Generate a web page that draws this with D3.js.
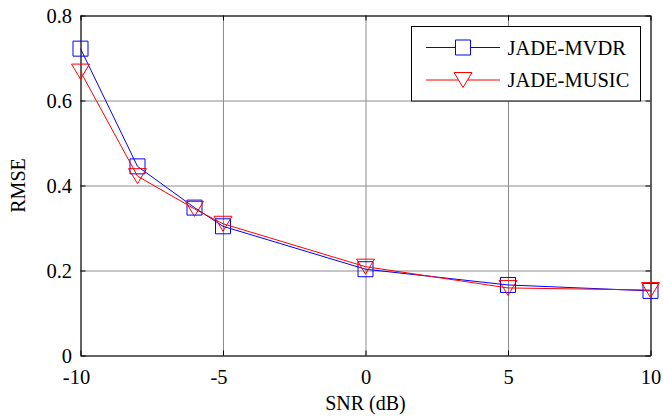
<!DOCTYPE html>
<html>
<head>
<meta charset="utf-8">
<script src="https://cdn.jsdelivr.net/npm/d3@7/dist/d3.min.js"></script>
<style>
  body { margin: 0; background: #fff; }
  text { font-family: "Liberation Serif", "Times New Roman", serif; fill: #000; }
</style>
</head>
<body>
<script>
// data
const snr = [-10, -8, -6, -5, 0, 5, 10];
const mvdr = [0.722, 0.445, 0.348, 0.304, 0.203, 0.166, 0.152];
const music = [0.668, 0.422, 0.345, 0.310, 0.209, 0.159, 0.154];
const xTicks = [-10, -5, 0, 5, 10];
const yTicks = [0, 0.2, 0.4, 0.6, 0.8];
const seriesNames = ["JADE-MVDR", "JADE-MUSIC"];

// canvas
const w = 663;
const h = 418;
const pLeft = 80.5, pRight = 650.5, pTop = 15.5, pBottom = 355.5;
const fs = "20.5px";
const fsTitle = "20px";

const xScale = d3.scaleLinear().domain([-10, 10]).range([pLeft, pRight]);
const yScale = d3.scaleLinear().domain([0, 0.8]).range([pBottom, pTop]);

const svg = d3.select("body")
  .append("svg")
  .attr("width", w)
  .attr("height", h);

// grid lines
svg.append("g")
  .attr("transform", "translate(0," + pBottom + ")")
  .call(d3.axisBottom(xScale).tickValues(xTicks).tickSize(-(pBottom - pTop)).tickFormat(""))
  .call(g => g.select(".domain").remove())
  .selectAll("line").attr("stroke", "#8c8c8c");

svg.append("g")
  .attr("transform", "translate(" + pLeft + ",0)")
  .call(d3.axisLeft(yScale).tickValues(yTicks).tickSize(-(pRight - pLeft)).tickFormat(""))
  .call(g => g.select(".domain").remove())
  .selectAll("line").attr("stroke", "#8c8c8c");

// axes with inward ticks, all four sides (plain "-" and "0" like matlab)
const fmt = d => String(d);
const xAxis = d3.axisBottom(xScale).tickValues(xTicks).tickFormat(fmt).tickSizeInner(-5).tickSizeOuter(0).tickPadding(14.2);
const yAxis = d3.axisLeft(yScale).tickValues(yTicks).tickFormat(fmt).tickSizeInner(-5).tickSizeOuter(0).tickPadding(8.5);

const gx = svg.append("g")
  .attr("class", "frame")
  .attr("transform", "translate(0," + pBottom + ")")
  .call(xAxis);
gx.selectAll("text")
  .style("font-size", fs)
  .attr("dx", d => d < 0 ? -4.5 : 0);

const gy = svg.append("g")
  .attr("class", "frame")
  .attr("transform", "translate(" + pLeft + ",0)")
  .call(yAxis);
gy.selectAll("text").style("font-size", fs);

svg.append("g")
  .attr("class", "frame")
  .attr("transform", "translate(0," + pTop + ")")
  .call(d3.axisTop(xScale).tickValues(xTicks).tickSizeInner(-5).tickSizeOuter(0).tickFormat(""));

svg.append("g")
  .attr("class", "frame")
  .attr("transform", "translate(" + pRight + ",0)")
  .call(d3.axisRight(yScale).tickValues(yTicks).tickSizeInner(-5).tickSizeOuter(0).tickFormat(""));

svg.selectAll(".frame .domain").attr("stroke", "#000");
svg.selectAll(".frame .tick line").attr("stroke", "#000");

// axis titles
svg.append("text")
  .attr("x", (pLeft + pRight) / 2)
  .attr("y", 410)
  .attr("text-anchor", "middle")
  .style("font-size", fsTitle)
  .text("SNR (dB)");

svg.append("text")
  .attr("transform", "translate(25," + (pTop + pBottom) / 2 + ") rotate(-90)")
  .attr("text-anchor", "middle")
  .style("font-size", fsTitle)
  .text("RMSE");

// markers
const square = d3.symbol().type(d3.symbolSquare).size(225);
const triDown = "M-9,-7.5L9,-7.5L0,7.5Z";

const line = d3.line()
  .x((d, i) => xScale(snr[i]))
  .y(d => yScale(d));

const series = [
  { name: seriesNames[0], vals: mvdr, color: "#0000ff", marker: square() },
  { name: seriesNames[1], vals: music, color: "#ff0000", marker: triDown }
];

series.forEach(s => {
  svg.append("path")
    .attr("d", line(s.vals))
    .attr("fill", "none")
    .attr("stroke", s.color)
    .attr("stroke-width", 1);

  svg.selectAll(null)
    .data(s.vals)
    .enter()
    .append("path")
    .attr("d", s.marker)
    .attr("transform", (d, i) => "translate(" + xScale(snr[i]) + "," + yScale(d) + ")")
    .attr("fill", "none")
    .attr("stroke", s.color)
    .attr("stroke-width", 1);
});

// legend
const legend = svg.append("g").attr("transform", "translate(411.5,26.5)");
legend.append("rect")
  .attr("width", 229)
  .attr("height", 74.5)
  .attr("fill", "#fff")
  .attr("stroke", "#000");

series.forEach((s, i) => {
  const ly = 21 + i * 32.5;
  legend.append("line")
    .attr("x1", 14.5).attr("x2", 88.5)
    .attr("y1", ly).attr("y2", ly)
    .attr("stroke", s.color);
  legend.append("path")
    .attr("d", s.marker)
    .attr("transform", "translate(51.5," + ly + ")")
    .attr("fill", "#fff")
    .attr("stroke", s.color);
  legend.append("text")
    .attr("x", 96)
    .attr("y", ly + 7)
    .style("font-size", fs)
    .text(s.name);
});
</script>
</body>
</html>
